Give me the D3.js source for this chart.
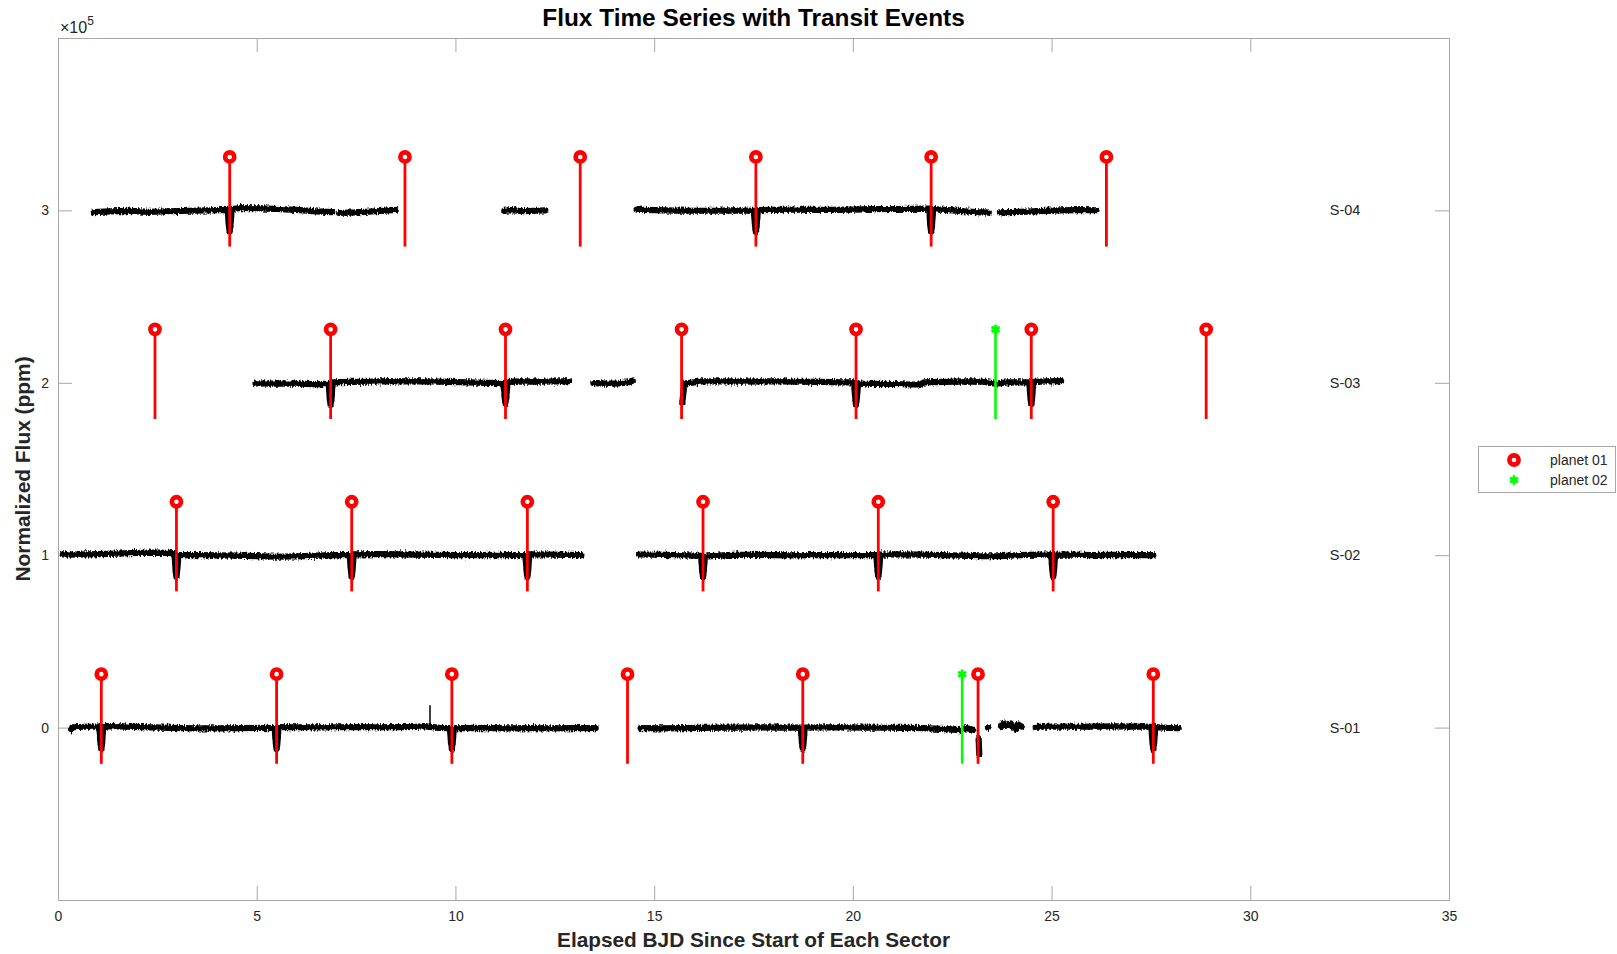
<!DOCTYPE html>
<html><head><meta charset="utf-8">
<script src="https://cdn.jsdelivr.net/npm/d3@7"></script>
<style>
body{margin:0;background:#fff;}
svg{display:block;}
text{font-family:"Liberation Sans Narrow","Liberation Sans",Arial,sans-serif;fill:#262626;}
</style>
</head><body>
<svg id="chart" width="1617" height="954"></svg>
<script>
// ---------- data ----------
const sectorNames   = ["S-01", "S-02", "S-03", "S-04"];
const sectorOffsets = [0, 100000, 200000, 300000];
const xTickValues   = [0, 5, 10, 15, 20, 25, 30, 35];
const yTickValues   = [0, 100000, 200000, 300000];
const yTickLabels   = ["0", "1", "2", "3"];
const sectorLabelX  = 32;

// transit mid-times (days since sector start)
const planet01S01 = [1.09, 5.50, 9.91, 14.33, 18.74, 23.15, 27.56];
const planet01S02 = [2.98, 7.39, 11.81, 16.23, 20.64, 25.04];
const planet01S03 = [2.44, 6.86, 11.26, 15.69, 20.08, 24.49, 28.89];
const planet01S04 = [4.32, 8.73, 13.14, 17.56, 21.97, 26.38];
const planet02S01 = [22.75];
const planet02S02 = [];
const planet02S03 = [23.59];
const planet02S04 = [];
const stemLow  = -21000;   // ppm relative to sector offset
const stemHigh = 31000;

// normalized flux (ppm, relative to sector offset), one array per data segment
const fluxS01 = [
  [[0.33,-1500],[0.36,200],[0.7,500],[1.0,600],[1.04,600],[1.07,-9000],[1.09,-12500],[1.11,-9000],[1.14,800],[1.6,700],[2.1,300],[2.6,0],[3.1,-300],[3.6,-400],[4.1,-400],[4.6,-300],[5.1,-200],[5.45,-300],[5.48,-9000],[5.50,-12500],[5.52,-9000],[5.55,300],[6.0,200],[6.5,100],[7.0,200],[7.5,300],[8.0,200],[8.5,300],[9.0,400],[9.2,900],[9.6,-200],[9.86,-300],[9.89,-9000],[9.91,-12500],[9.93,-9000],[9.96,-500],[10.4,-200],[10.9,-300],[11.4,-400],[11.9,-300],[12.4,-400],[12.9,-300],[13.53,-300]],
  [[14.66,-300],[15.2,-400],[15.7,-300],[16.2,-200],[16.7,0],[17.2,0],[17.7,100],[18.2,0],[18.69,0],[18.72,-9000],[18.74,-12500],[18.76,-9000],[18.79,0],[19.3,200],[19.8,100],[20.3,0],[20.8,-100],[21.3,-200],[21.8,-300],[22.2,-700],[22.5,-1200],[22.7,-1500],[22.85,-300],[23.03,-1200]],
  [[23.165,-6500],[23.18,-15500]],
  [[23.40,0],[23.41,200]],
  [[23.73,800],[23.78,2500],[23.83,900]],
  [[23.92,1500],[23.97,2400],[24.03,600],[24.10,-1200],[24.16,1800],[24.25,600]],
  [[24.60,500],[25.1,600],[25.6,500],[26.1,600],[26.6,700],[27.1,600],[27.51,500],[27.54,-9000],[27.56,-12500],[27.58,-9000],[27.61,300],[27.9,-200],[28.20,-300]]
];
const fluxS02 = [
  [[0.12,500],[0.5,300],[1.0,600],[1.5,900],[2.0,1300],[2.5,1500],[2.93,1200],[2.96,-9000],[2.98,-12500],[3.00,-9000],[3.03,0],[3.5,0],[4.0,-100],[4.5,-300],[5.0,-500],[5.5,-900],[6.0,-700],[6.5,-300],[7.0,0],[7.34,0],[7.37,-9000],[7.39,-12500],[7.41,-9000],[7.44,500],[8.0,600],[8.5,500],[9.0,300],[9.5,200],[10.0,0],[10.5,100],[11.0,200],[11.5,0],[11.76,0],[11.79,-9000],[11.81,-12500],[11.83,-9000],[11.86,500],[12.3,400],[12.8,200],[13.17,0]],
  [[14.62,400],[15.0,300],[15.5,0],[16.0,-200],[16.18,-400],[16.21,-9000],[16.23,-12500],[16.25,-9000],[16.28,-800],[16.6,-300],[17.0,200],[17.5,200],[18.0,0],[18.5,-100],[19.0,0],[19.5,0],[20.0,100],[20.59,0],[20.62,-9000],[20.64,-12500],[20.66,-9000],[20.69,300],[21.2,500],[21.7,400],[22.2,0],[22.7,-200],[23.2,-600],[23.7,-500],[24.2,0],[24.7,300],[24.99,300],[25.02,-9000],[25.04,-12500],[25.06,-9000],[25.09,300],[25.5,300],[26.0,100],[26.5,200],[27.0,0],[27.56,0]]
];
const fluxS03 = [
  [[4.97,-300],[5.4,-500],[5.9,-400],[6.4,-800],[6.81,-600],[6.84,-9500],[6.86,-13000],[6.88,-9500],[6.91,200],[7.3,500],[7.8,600],[8.3,1000],[8.8,800],[9.3,900],[9.8,500],[10.3,300],[10.8,0],[11.21,-200],[11.24,-9000],[11.26,-12000],[11.28,-9000],[11.31,500],[11.7,800],[12.2,700],[12.86,900]],
  [[13.47,-200],[13.8,-500],[14.1,-300],[14.35,200],[14.46,1300]],
  [[15.71,-11500],[15.73,-7000],[15.76,-500],[16.2,800],[16.7,900],[17.2,700],[17.7,800],[18.2,800],[18.7,600],[19.2,500],[19.7,300],[20.03,200],[20.06,-9000],[20.08,-12500],[20.10,-9000],[20.13,-400],[20.5,-600],[21.0,-700],[21.5,-1000],[21.7,-900],[21.8,300],[22.3,500],[22.8,800],[23.3,700],[23.55,-400],[23.65,-300],[23.9,200],[24.44,300],[24.47,-9000],[24.49,-12500],[24.51,-9000],[24.54,500],[24.9,800],[25.24,1000]]
];
const fluxS04 = [
  [[0.90,-1000],[1.3,-600],[1.8,-300],[2.3,-800],[2.8,-500],[3.3,-200],[3.8,0],[4.27,300],[4.30,-9000],[4.32,-12500],[4.34,-9000],[4.37,800],[4.6,1400],[5.1,1200],[5.6,700],[6.1,200],[6.5,-600],[6.90,-1000]],
  [[7.07,-1500],[7.5,-1200],[8.0,-500],[8.50,300]],
  [[11.23,-300],[11.4,200],[11.7,-400],[12.0,-200],[12.26,0]],
  [[14.56,500],[15.0,200],[15.5,-100],[16.0,-200],[16.5,-200],[17.0,0],[17.51,-200],[17.54,-9000],[17.56,-12500],[17.58,-9000],[17.61,200],[18.0,300],[18.5,400],[19.0,300],[19.5,300],[20.0,500],[20.5,700],[21.0,800],[21.5,900],[21.92,1000],[21.95,-9000],[21.97,-12500],[21.99,-9000],[22.02,700],[22.4,200],[22.8,-500],[23.1,-1000],[23.42,-1300]],
  [[23.70,-1200],[24.2,-800],[24.7,-400],[25.2,0],[25.7,200],[26.13,100]]
];
// isolated outliers: [time, base ppm, peak ppm]
const spikesS01 = [[9.36, 0, 13000]];
const spikesS02 = [[17.09, 0, 3000]];
const spikesS03 = [];
const spikesS04 = [];

const fluxBySector     = [fluxS01, fluxS02, fluxS03, fluxS04];
const spikesBySector   = [spikesS01, spikesS02, spikesS03, spikesS04];
const planet01BySector = [planet01S01, planet01S02, planet01S03, planet01S04];
const planet02BySector = [planet02S01, planet02S02, planet02S03, planet02S04];

// ---------- drawing ----------
const W = 1617, H = 954;
const L = 58, R = 1449, T = 38, B = 900;
const svg = d3.select("#chart");
const x = d3.scaleLinear().domain([0, 35]).range([L, R]);
const y = d3.scaleLinear().domain([-100000, 400000]).range([B, T]);

// roughening filter for the noisy flux band
const defs = svg.append("defs");
const f = defs.append("filter").attr("id","rough").attr("filterUnits","userSpaceOnUse")
  .attr("x",0).attr("y",0).attr("width",W).attr("height",H);
f.append("feTurbulence").attr("type","fractalNoise").attr("baseFrequency","0.7 0.35")
  .attr("numOctaves",1).attr("seed",3).attr("result","t");
f.append("feColorMatrix").attr("in","t").attr("type","matrix")
  .attr("values","0 0 0 0 0.5  0 1 0 0 0  0 0 1 0 0  0 0 0 0 1").attr("result","m");
f.append("feDisplacementMap").attr("in","SourceGraphic").attr("in2","m")
  .attr("scale",6).attr("xChannelSelector","R").attr("yChannelSelector","G");

svg.append("rect").attr("width",W).attr("height",H).attr("fill","#fff");

const axisColor = "#a6a6a6";
const tickFont = '"Liberation Sans Narrow","Liberation Sans",Arial,sans-serif';
function styleAxis(g){
  g.select(".domain").attr("stroke",axisColor).attr("stroke-width",1);
  g.selectAll(".tick line").attr("stroke",axisColor).attr("stroke-width",1);
  g.selectAll(".tick text").attr("fill","#262626").style("font-size","14px").style("font-family",tickFont);
}
svg.append("g").attr("transform",`translate(0,${B})`)
  .call(d3.axisBottom(x).tickValues(xTickValues).tickSize(-14).tickSizeOuter(0).tickPadding(11).tickFormat(d3.format("d")))
  .call(styleAxis);
svg.append("g").attr("transform",`translate(0,${T})`)
  .call(d3.axisTop(x).tickValues(xTickValues).tickSize(-14).tickSizeOuter(0).tickFormat(""))
  .call(styleAxis);
svg.append("g").attr("transform",`translate(${L},0)`)
  .call(d3.axisLeft(y).tickValues(yTickValues).tickSize(-14).tickSizeOuter(0).tickPadding(9)
        .tickFormat((d,i)=>yTickLabels[i]))
  .call(styleAxis);
svg.append("g").attr("transform",`translate(${R},0)`)
  .call(d3.axisRight(y).tickValues(yTickValues).tickSize(-14).tickSizeOuter(0).tickFormat(""))
  .call(styleAxis);

// x10^5 multiplier
const mult = svg.append("text").attr("x",L+2).attr("y",33).style("font-size","16px");
mult.append("tspan").text("\u00d710");
mult.append("tspan").attr("dy",-8).style("font-size","12px").text("5");

// flux lines
const line = d3.line().x(d=>x(d[0])).y(d=>y(d[1]));
const fluxG = svg.append("g").attr("filter","url(#rough)");
fluxBySector.forEach((segs,si)=>{
  const off = sectorOffsets[si];
  segs.forEach(seg=>{
    fluxG.append("path")
      .datum(seg.map(p=>[p[0], p[1]+off]))
      .attr("d",line)
      .attr("fill","none").attr("stroke","#000").attr("stroke-width",6.2)
      .attr("stroke-linejoin","round").attr("stroke-linecap","round");
  });
});
spikesBySector.forEach((sp,si)=>{
  const off = sectorOffsets[si];
  sp.forEach(s=>{
    svg.append("line").attr("x1",x(s[0])).attr("x2",x(s[0]))
      .attr("y1",y(off+s[1])).attr("y2",y(off+s[2]))
      .attr("stroke","#000").attr("stroke-width",1.5);
  });
});

// sector labels
sectorNames.forEach((n,i)=>{
  svg.append("text").attr("x",x(sectorLabelX)).attr("y",y(sectorOffsets[i]))
    .attr("dy","0.35em").style("font-size","14.5px").text(n);
});

// transit stems + markers
const star = d3.symbol().type(d3.symbolAsterisk).size(60);
planet02BySector.forEach((ts,si)=>{
  const off = sectorOffsets[si];
  ts.forEach(t=>{
    svg.append("line").attr("x1",x(t)).attr("x2",x(t))
      .attr("y1",y(off+stemLow)).attr("y2",y(off+stemHigh))
      .attr("stroke","#00ff00").attr("stroke-width",2.6);
    svg.append("path").attr("d",star).attr("transform",`translate(${x(t)},${y(off+stemHigh)})`)
      .attr("fill","#00ff00").attr("stroke","#00ff00").attr("stroke-width",2.8);
  });
});
planet01BySector.forEach((ts,si)=>{
  const off = sectorOffsets[si];
  ts.forEach(t=>{
    svg.append("line").attr("x1",x(t)).attr("x2",x(t))
      .attr("y1",y(off+stemLow)).attr("y2",y(off+stemHigh))
      .attr("stroke","#ff0000").attr("stroke-width",2.8);
    svg.append("circle").attr("cx",x(t)).attr("cy",y(off+stemHigh)).attr("r",4.6)
      .attr("fill","#fff").attr("stroke","#ff0000").attr("stroke-width",4.6);
  });
});

// titles
svg.append("text").attr("x",(L+R)/2).attr("y",26).attr("text-anchor","middle")
  .style("font-size","24.4px").style("font-weight","bold").style("fill","#000")
  .text("Flux Time Series with Transit Events");
svg.append("text").attr("x",(L+R)/2).attr("y",947).attr("text-anchor","middle")
  .style("font-size","20.8px").style("font-weight","bold")
  .text("Elapsed BJD Since Start of Each Sector");
svg.append("text").attr("transform",`translate(30,${(T+B)/2}) rotate(-90)`).attr("text-anchor","middle")
  .style("font-size","20.9px").style("font-weight","bold")
  .text("Normalized Flux (ppm)");

// legend
const lg = svg.append("g");
lg.append("rect").attr("x",1478.5).attr("y",446.5).attr("width",137).attr("height",46)
  .attr("fill","#fff").attr("stroke",axisColor).attr("stroke-width",1);
lg.append("circle").attr("cx",1514).attr("cy",460).attr("r",4.6)
  .attr("fill","#fff").attr("stroke","#ff0000").attr("stroke-width",4.6);
lg.append("path").attr("d",star).attr("transform","translate(1514,480)")
  .attr("fill","#00ff00").attr("stroke","#00ff00").attr("stroke-width",2.8);
lg.append("text").attr("x",1550).attr("y",460).attr("dy","0.35em").style("font-size","14px").text("planet 01");
lg.append("text").attr("x",1550).attr("y",480).attr("dy","0.35em").style("font-size","14px").text("planet 02");
</script>
</body></html>
